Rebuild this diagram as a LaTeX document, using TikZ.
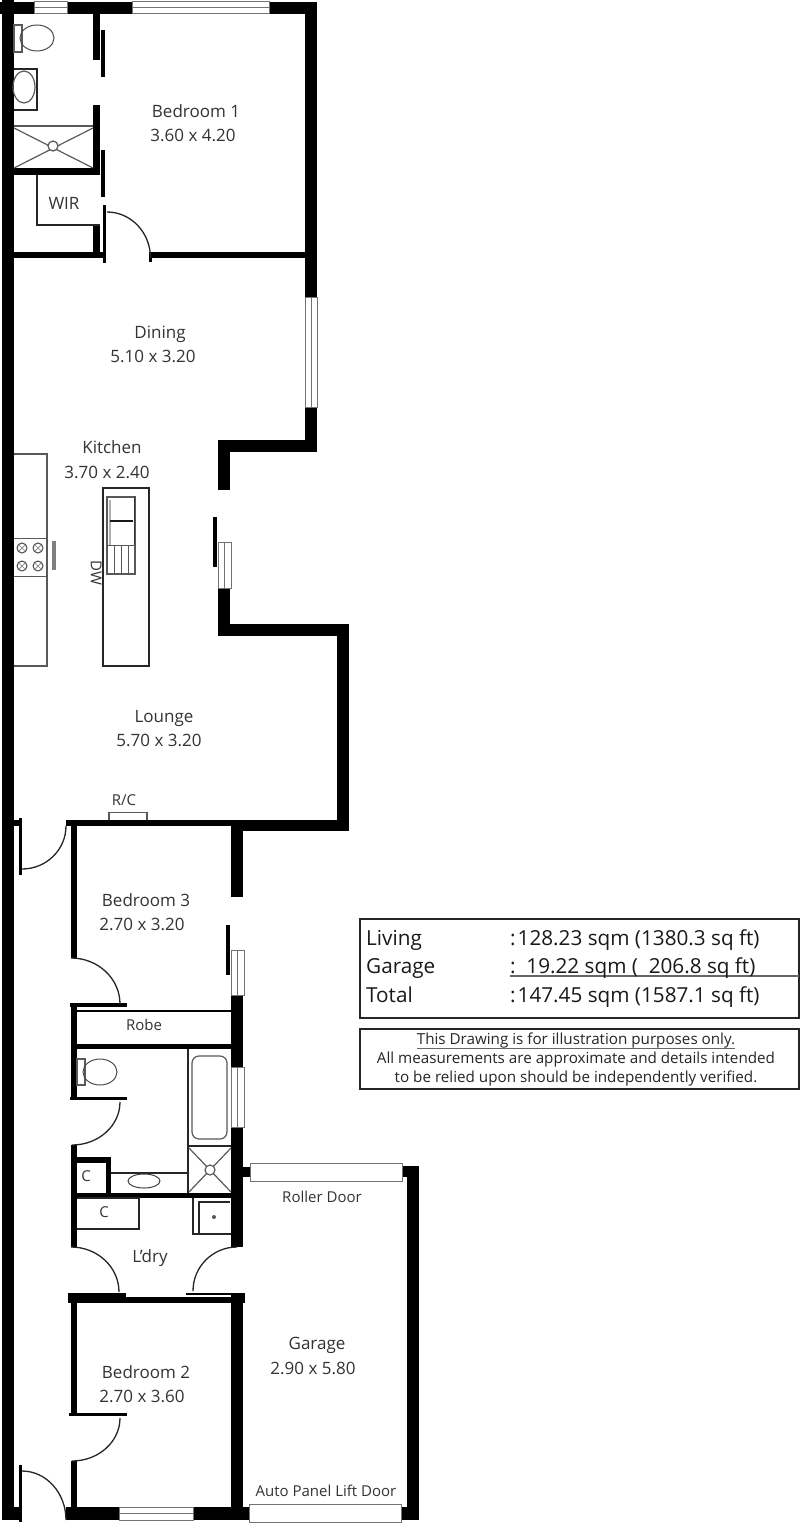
\documentclass[tikz,border=0pt]{standalone}
\usepackage{fontspec}
\setmainfont{Open Sans}
\definecolor{txt}{gray}{0.2}
\definecolor{fix}{gray}{0.5}
\tikzset{
  wall/.style={fill=black,draw=none},
  thin line/.style={draw=black!85,line width=1.2pt},
  fixture/.style={draw=fix!70!black,line width=1.2pt},
  doorarc/.style={draw=black!85,line width=1.3pt},
  glass/.style={draw=black!55,fill=white,line width=1pt},
  roomlabel/.style={text=txt,font=\fontsize{17}{17}\selectfont,inner sep=0pt,text height=11pt,text depth=3pt,yshift=-2pt},
  smalllabel/.style={text=txt,font=\fontsize{15}{15}\selectfont,inner sep=0pt,text height=9.5pt,text depth=3pt,yshift=-2pt},
  tabletext/.style={text=black!90,font=\fontsize{20.7}{21}\selectfont,inner sep=0pt,anchor=west,text height=15pt,text depth=5pt,yshift=-2pt},
  notetext/.style={text=black!85,font=\fontsize{15.2}{15}\selectfont,inner sep=0pt,text height=10pt,text depth=3pt,yshift=-1pt},
}
\newcommand{\wl}[4]{\fill[wall] (#1,#2) rectangle (#3,#4);}
\newcommand{\winh}[4]{\draw[glass] (#1,#2) rectangle (#3,#4); \draw[black!55,line width=1pt] (#1,{(#2+#4)/2}) -- (#3,{(#2+#4)/2});}
\newcommand{\winv}[4]{\draw[glass] (#1,#2) rectangle (#3,#4); \draw[black!55,line width=1pt] ({(#1+#3)/2},#2) -- ({(#1+#3)/2},#4);}
\begin{document}
\begin{tikzpicture}[x=1pt,y=-1pt]
\useasboundingbox (0,0) rectangle (800,1525);
\fill[white] (0,0) rectangle (800,1525);
% outer left wall, top wall, right wall
\wl{2}{0}{14}{1520}
\wl{0}{2}{317}{14}
\wl{305}{2}{317}{452}
\wl{218}{440}{317}{452}
\wl{218}{440}{230}{490}
\wl{218}{588}{230}{636}
\wl{218}{624}{349}{636}
\wl{337}{624}{349}{831}
\wl{232}{820}{349}{831}
\wl{231}{820}{243}{897}
\wl{231}{995}{243}{1247}
\wl{231}{1293}{243}{1520}
\wl{231}{1293}{245}{1303}
\wl{243}{1167}{250}{1177}
\wl{407}{1166}{419}{1520}
\wl{402}{1166}{419}{1177}
\wl{401}{1507}{419}{1520}
\wl{66}{1507}{249}{1520}
\wl{2}{1507}{19}{1520}
% entry door gaps in the left wall
\wl{14}{820}{19}{826}
\wl{66}{820}{232}{826}
% bedroom 1 partitions
\wl{93}{14}{100}{60}
\wl{93}{105}{100}{175}
\wl{93}{224}{100}{258}
\wl{14}{168}{100}{175}
\wl{14}{252}{105}{258}
\wl{150}{252}{305}{258}
\wl{101}{30}{105}{77}
\wl{101}{150}{105}{197}
\wl{103}{205}{106}{263}
\wl{149}{252}{152}{262}
% centre partitions
\wl{71}{826}{77}{958}
\wl{70}{1003}{127}{1007}
\wl{71}{1005}{77}{1098}
\wl{70}{1097}{127}{1100}
\wl{77}{1010}{231}{1012}
\wl{77}{1044}{231}{1049}
\wl{71}{1145}{77}{1197}
\wl{71}{1157}{111}{1163}
\wl{106}{1157}{111}{1197}
\wl{71}{1193}{231}{1198}
\wl{71}{1198}{77}{1247}
\wl{68}{1293}{126}{1303}
\wl{126}{1297}{243}{1303}
\wl{186}{1293}{243}{1295}
\wl{71}{1303}{77}{1414}
\wl{69}{1413}{127}{1416}
\wl{71}{1461}{77}{1510}
\wl{213}{517}{217}{567}
\wl{226}{925}{230}{975}
% windows
\winh{34}{2}{67}{14}
\winh{132}{2}{269}{14}
\winv{305}{297}{317}{407}
\winv{218}{542}{231}{588}
\winv{231}{950}{244}{995}
\winv{231}{1067}{244}{1127}
\winh{119}{1507}{193}{1520}
% garage doors
\draw[glass] (250,1163) rectangle (402,1181);
\draw[glass] (249,1504) rectangle (401,1522);
% doors
\wl{19}{818}{22}{875}
\wl{19}{1465}{22}{1522}
\draw[doorarc] (107,212) arc (-90:0:43.5 and 46);
\draw[doorarc] (22,869) arc (90:0:44 and 43);
\draw[doorarc] (22,1471) arc (-90:0:44 and 49);
\draw[doorarc] (71,958) arc (-90:0:49 and 46);
\draw[doorarc] (72,1145) arc (90:0:48 and 43);
\draw[doorarc] (71,1247) arc (-90:0:48 and 45);
\draw[doorarc] (237,1247) arc (-90:-180:44 and 44);
\draw[doorarc] (72,1461) arc (90:0:48 and 43);
% ensuite fixtures
\draw[fixture] (14,25) rectangle (22,52);
\draw[thin line,line width=1pt,black!70] (37,38) ellipse (17 and 13);
\draw[thin line] (14,69) -- (37,69) -- (37,110) -- (14,110);
\draw[fixture] (24,87) ellipse (11 and 16);
\draw[fixture] (14,126) -- (93,126);
\draw[fixture] (14,128) -- (93,168) (93,128) -- (14,168);
\draw[fixture,fill=white] (53,146) circle (5);
% WIR
\draw[thin line] (37,175) -- (37,225) -- (100,225);
% kitchen
\draw[fixture] (14,454) -- (47,454) -- (47,666) -- (14,666);
\draw[fixture,line width=1pt] (14,538) -- (47,538) (14,576) -- (47,576);
\foreach \cx/\cy in {22/548,38/548,22/566,38/566}{
  \draw[black!70,line width=1pt] (\cx,\cy) circle (5);
  \draw[black!50,line width=.7pt] (\cx-3,\cy-3) -- (\cx+3,\cy+3) (\cx+3,\cy-3) -- (\cx-3,\cy+3);
}
\fill[fix] (52,541) rectangle (55.5,570);
\draw[thin line] (103,488) rectangle (149,666);
\draw[fixture,line width=1.6pt] (107,497) rectangle (135,574);
\draw[fixture,line width=2pt,fix!60] (110,500) -- (110,545);
\draw[black!90,line width=1.3pt] (110,521) -- (133,521);
\draw[black!80,line width=1pt] (134,497) -- (134,545);
\draw[fixture,line width=.9pt] (108,545) -- (134,545);
\foreach \lx in {114,121,128}{\draw[fixture,line width=1pt] (\lx,545) -- (\lx,573);}
% R/C
\draw[fixture] (109,820) -- (109,812.5) -- (147,812.5) -- (147,820);
% bathroom
\draw[fixture] (77,1059) rectangle (85,1085);
\draw[black!70,line width=1pt] (100,1072) ellipse (17 and 13);
\draw[thin line] (188,1049) -- (188,1193);
\draw[fixture,rounded corners=7pt] (192,1056) rectangle (227,1139);
\draw[thin line] (188,1146) -- (231,1146);
\draw[fixture] (189,1148) -- (231,1192) (231,1148) -- (189,1192);
\draw[fixture,fill=white] (210,1170) circle (5);
\draw[thin line] (111,1173) -- (188,1173);
\draw[black!75,line width=1pt] (144,1181) ellipse (16 and 7);
% laundry
\draw[thin line] (77,1198) -- (139,1198) -- (139,1229) -- (77,1229);
\draw[thin line] (231,1234) -- (193,1234) -- (193,1198);
\draw[thin line,line width=1.5pt] (199,1233) -- (199,1202) -- (230,1202);
\fill[black!65] (214,1217) circle (2);
% room labels
\node[roomlabel] (bed1) at (196,112) {Bedroom 1};
\node[roomlabel] (bed1d) at (193,136) {3.60 x 4.20};
\node[roomlabel] (wir) at (64,203) {WIR};
\node[roomlabel] (din) at (160,332) {Dining};
\node[roomlabel] (dind) at (153,356) {5.10 x 3.20};
\node[roomlabel] (kit) at (112,447) {Kitchen};
\node[roomlabel] (kitd) at (107,472) {3.70 x 2.40};
\node[smalllabel,rotate=-90,yshift=2pt] (dw) at (92,571) {DW};
\node[roomlabel] (lou) at (164,716) {Lounge};
\node[roomlabel] (loud) at (159,740) {5.70 x 3.20};
\node[smalllabel] (rc) at (124,800) {R/C};
\node[roomlabel] (bed3) at (146,900) {Bedroom 3};
\node[roomlabel] (bed3d) at (142,924) {2.70 x 3.20};
\node[smalllabel] (robe) at (144,1025) {Robe};
\node[smalllabel] (c1) at (86,1176) {C};
\node[smalllabel] (c2) at (104,1212) {C};
\node[roomlabel] (ldry) at (150,1256) {L'dry};
\node[smalllabel] (roller) at (322,1197) {Roller Door};
\node[roomlabel] (gar) at (317,1343) {Garage};
\node[roomlabel] (gard) at (313,1368) {2.90 x 5.80};
\node[roomlabel] (bed2) at (146,1372) {Bedroom 2};
\node[roomlabel] (bed2d) at (142,1396) {2.70 x 3.60};
\node[smalllabel] (auto) at (326,1491) {Auto Panel Lift Door};
% area table
\draw[black!85,line width=2pt] (360,919) rectangle (799,1018);
\draw[black!60,line width=2pt] (510,975.5) -- (799,975.5);
\node[tabletext] (t1) at (366,938) {Living};
\node[tabletext] (t2) at (366,966) {Garage};
\node[tabletext] (t3) at (366,995) {Total};
\node[tabletext] (v1) at (510,938) {:\kern2pt 128.23 sqm (1380.3 sq ft)};
\node[tabletext] (v2) at (510,966) {:\ \ 19.22 sqm (\ \ 206.8 sq ft)};
\node[tabletext] (v3) at (510,995) {:\kern2pt 147.45 sqm (1587.1 sq ft)};
% note box
\draw[black!85,line width=2pt] (360,1029) rectangle (799,1089);
\node[notetext] (n1) at (576,1040) {This Drawing is for illustration purposes only.};
\draw[black!60,line width=.8pt] ([yshift=-1pt]n1.south west) -- ([yshift=-1pt]n1.south east);
\node[notetext] (n2) at (576,1059) {All measurements are approximate and details intended};
\node[notetext] (n3) at (576,1078) {to be relied upon should be independently verified.};
\end{tikzpicture}
\end{document}
